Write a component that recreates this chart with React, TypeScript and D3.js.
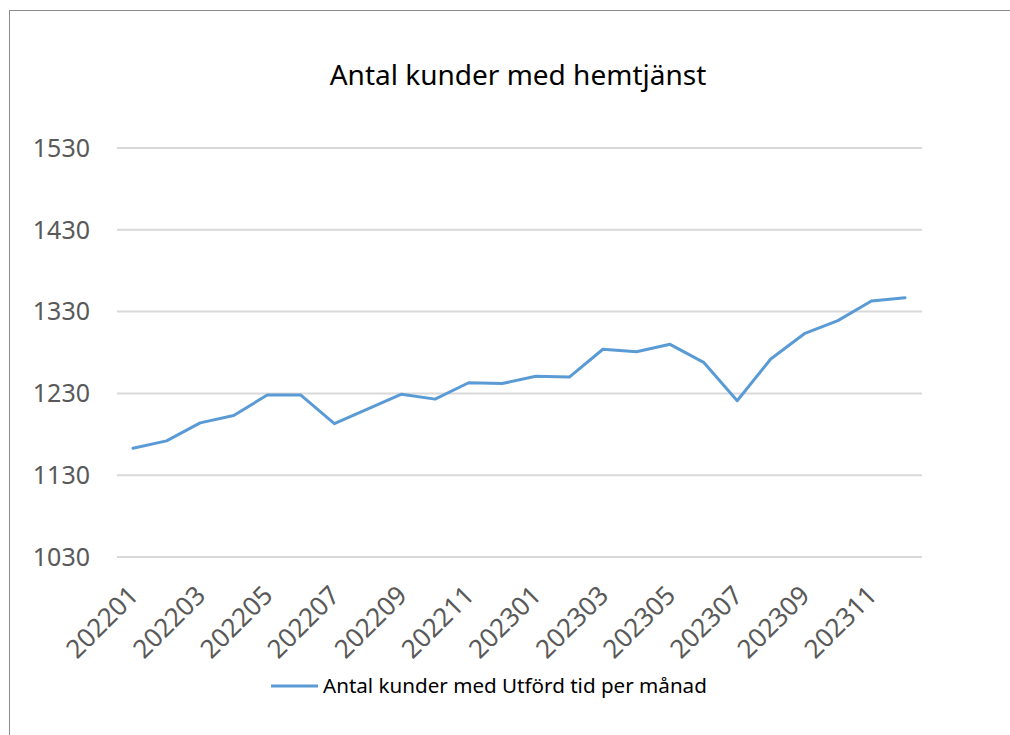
import React, { useEffect, useRef } from 'react';
import * as d3 from 'd3';

const months = [
  '202201', '202202', '202203', '202204', '202205', '202206',
  '202207', '202208', '202209', '202210', '202211', '202212',
  '202301', '202302', '202303', '202304', '202305', '202306',
  '202307', '202308', '202309', '202310', '202311', '202312',
];
const kunder = [
  1163, 1172, 1194, 1203, 1228, 1228,
  1193, 1211, 1229, 1223, 1243, 1242,
  1251, 1250, 1284, 1281, 1290, 1268,
  1221, 1272, 1303, 1319, 1343, 1347,
];
const yTicks = [1030, 1130, 1230, 1330, 1430, 1530];
const title = 'Antal kunder med hemtjänst';
const seriesName = 'Antal kunder med Utförd tid per månad';

const App = () => {
  const ref = useRef<SVGSVGElement>(null);

  useEffect(() => {
    const svg = d3.select(ref.current);
    svg.selectAll('*').remove();

    const width = 1010;
    const height = 735;
    const font = '"Noto Sans", "Open Sans", sans-serif';

    // chart frame (only top and left edge are visible in the crop)
    svg.append('rect')
      .attr('x', 9.5).attr('y', 10.5)
      .attr('width', width + 20).attr('height', height + 20)
      .attr('fill', 'white')
      .attr('stroke', '#8c8c8c')
      .attr('stroke-width', 1);

    const x = d3.scalePoint<string>()
      .domain(months)
      .range([133, 905]);

    const y = d3.scaleLinear()
      .domain([1030, 1530])
      .range([557, 148]);

    // gridlines
    svg.append('g')
      .selectAll('line')
      .data(yTicks)
      .join('line')
      .attr('x1', 117).attr('x2', 922)
      .attr('y1', d => y(d)).attr('y2', d => y(d))
      .attr('stroke', '#d9d9d9')
      .attr('stroke-width', 2);

    // y labels
    svg.append('g')
      .selectAll('text')
      .data(yTicks)
      .join('text')
      .attr('x', 90)
      .attr('y', d => y(d))
      .attr('dy', '0.35em')
      .attr('text-anchor', 'end')
      .attr('font-family', font)
      .attr('font-size', 25)
      .attr('fill', '#595959')
      .text(d => d);

    // x labels, every second month
    svg.append('g')
      .selectAll('text')
      .data(months.filter((d, i) => i % 2 === 0))
      .join('text')
      .attr('transform', d => `translate(${x(d)! + 7},${597}) rotate(-45)`)
      .attr('text-anchor', 'end')
      .attr('font-family', font)
      .attr('font-size', 26)
      .attr('fill', '#595959')
      .text(d => d);

    // the line
    const line = d3.line<number>()
      .x((d, i) => x(months[i])!)
      .y(d => y(d));

    svg.append('path')
      .datum(kunder)
      .attr('d', line)
      .attr('fill', 'none')
      .attr('stroke', '#5b9bd5')
      .attr('stroke-width', 3)
      .attr('stroke-linejoin', 'round')
      .attr('stroke-linecap', 'round');

    // title
    svg.append('text')
      .attr('x', 518)
      .attr('y', 85)
      .attr('text-anchor', 'middle')
      .attr('font-family', font)
      .attr('font-size', 28)
      .attr('fill', '#000')
      .text(title);

    // legend
    svg.append('line')
      .attr('x1', 271).attr('x2', 318)
      .attr('y1', 686).attr('y2', 686)
      .attr('stroke', '#5b9bd5')
      .attr('stroke-width', 3);

    svg.append('text')
      .attr('x', 323)
      .attr('y', 693)
      .attr('font-family', font)
      .attr('font-size', 20.6)
      .attr('fill', '#000')
      .text(seriesName);
  }, []);

  return (
    <svg
      ref={ref}
      width={1010}
      height={735}
      style={{ position: 'absolute', left: 0, top: 0 }}
    />
  );
};

export default App;
